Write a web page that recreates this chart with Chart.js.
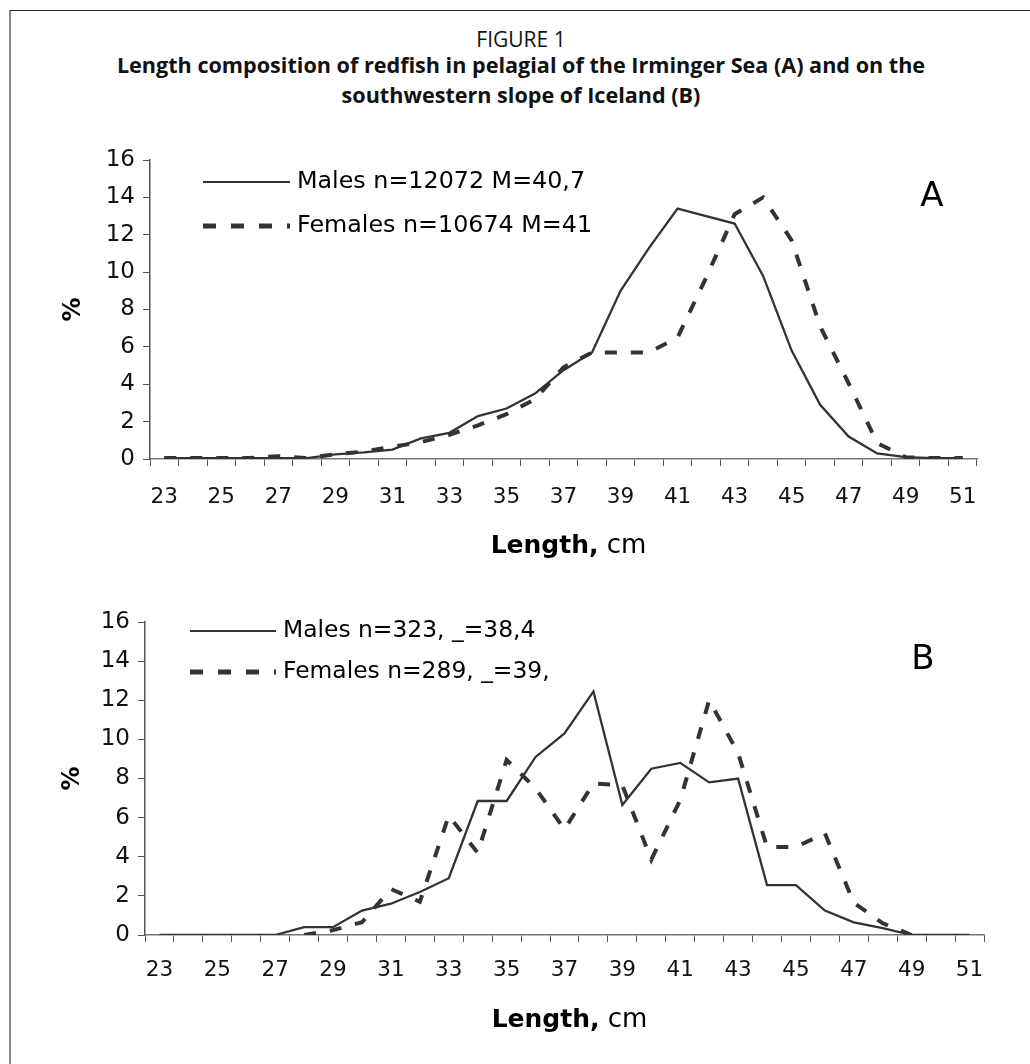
<!DOCTYPE html>
<html>
<head>
<meta charset="utf-8">
<script src="https://cdn.jsdelivr.net/npm/chart.js@4.4.1/dist/chart.umd.min.js"></script>
<style>
  body { margin: 0; background: #fff; }
  #page { position: relative; width: 1030px; height: 1064px; overflow: hidden; }
  #frame { position: absolute; left: 9px; top: 10px; right: -5px; bottom: -5px;
           border-top: 1px solid #222; border-left: 2px solid #888; }
  .hd { position: absolute; left: 0; width: 1042px; text-align: center; color: #111;
        font-family: "Open Sans", sans-serif; }
  #fig { top: 25px; font-size: 21px; line-height: 28px; }
  #ttl { top: 50px; font-size: 21.6px; font-weight: bold; line-height: 30px; }
  canvas { position: absolute; left: 0; }
  #chartA { top: 100px; }
  #chartB { top: 570px; }
</style>
</head>
<body>
<div id="page">
  <div id="frame"></div>
  <div class="hd" id="fig">FIGURE 1</div>
  <div class="hd" id="ttl">Length composition of redfish in pelagial of the Irminger Sea (A) and on the<br>southwestern slope of Iceland (B)</div>
  <canvas id="chartA" width="1030" height="470"></canvas>
  <canvas id="chartB" width="1030" height="494"></canvas>
</div>
<script>
// length classes, cm
const lengths = [23, 24, 25, 26, 27, 28, 29, 30, 31, 32, 33, 34, 35, 36, 37,
                 38, 39, 40, 41, 42, 43, 44, 45, 46, 47, 48, 49, 50, 51];

// A: pelagial of the Irminger Sea, % of catch
const malesA = [0.05, 0.05, 0.05, 0.05, 0.05, 0.05, 0.25, 0.35, 0.5, 1.1, 1.4, 2.3, 2.7, 3.5, 4.75,
                5.7, 9.0, 11.3, 13.4, 13.0, 12.6, 9.8, 5.8, 2.9, 1.2, 0.3, 0.1, 0.05, 0.05];
const femalesA = [0.05, 0.05, 0.05, 0.05, 0.15, 0.05, 0.25, 0.4, 0.65, 0.9, 1.3, 1.8, 2.4, 3.2, 4.9,
                  5.7, 5.7, 5.7, 6.5, 9.7, 13.1, 14.0, 11.7, 7.1, 4.05, 0.85, 0.1, 0.05, 0.05];

// B: southwestern slope of Iceland
const malesB = [0, 0, 0, 0, 0, 0.4, 0.4, 1.25, 1.6, 2.2, 2.9, 6.85, 6.85, 9.1, 10.3,
                12.45, 6.65, 8.5, 8.8, 7.8, 8.0, 2.55, 2.55, 1.25, 0.65, 0.35, 0, 0, 0];
const femalesB = [null, null, null, null, null, 0, 0.25, 0.65, 2.35, 1.7, 6.1, 4.2, 8.95, 7.5, 5.4,
                  7.75, 7.65, 3.85, 6.9, 12.0, 9.3, 4.5, 4.5, 5.2, 1.65, 0.6, 0, null, null];

const yTicks = [0, 2, 4, 6, 8, 10, 12, 14, 16];

const legendA = ['Males n=12072 M=40,7', 'Females n=10674 M=41'];
const legendB = ['Males n=323, _=38,4', 'Females n=289, _=39,'];

const LINE = '#333';
const FONT = 'DejaVu Sans';
const FEMALE_DASH = [12, 14];

// legend, panel letter and the mixed-weight x title are drawn on top of the chart
const overlay = {
  id: 'overlay',
  afterDraw(chart, args, o) {
    const { ctx, chartArea: a } = chart;
    ctx.save();
    ctx.fillStyle = '#000';
    ctx.textBaseline = 'middle';

    // legend rows
    o.legend.forEach((txt, i) => {
      const y = a.top + o.legendY[i];
      ctx.beginPath();
      ctx.strokeStyle = LINE;
      if (i === 0) {
        ctx.lineWidth = 2;
        ctx.setLineDash([]);
      } else {
        ctx.lineWidth = 5;
        ctx.setLineDash([13, 15]);
      }
      ctx.moveTo(a.left + o.sampleX[0], y);
      ctx.lineTo(a.left + o.sampleX[1], y);
      ctx.stroke();
      ctx.setLineDash([]);
      ctx.font = o.legendSize + 'px "' + FONT + '"';
      ctx.textAlign = 'left';
      ctx.fillText(txt, a.left + o.sampleX[1] + 7, y);
    });

    // panel letter
    ctx.font = '34px "' + FONT + '"';
    ctx.textAlign = 'center';
    ctx.fillText(o.letter, a.right + o.letterPos[0], a.top + o.letterPos[1]);

    // x axis title: "Length," bold, "cm" regular
    const bold = 'bold 25px "' + FONT + '"';
    const reg = '26px "' + FONT + '"';
    ctx.font = bold;
    const w1 = ctx.measureText('Length,').width;
    ctx.font = reg;
    const w2 = ctx.measureText(' cm').width;
    const x0 = (a.left + a.right) / 2 + 5 - (w1 + w2) / 2;
    const ty = a.bottom + o.titleY;
    ctx.textAlign = 'left';
    ctx.font = bold;
    ctx.fillText('Length,', x0, ty);
    ctx.font = reg;
    ctx.fillText(' cm', x0 + w1, ty);
    ctx.restore();
  }
};

function makeChart(id, males, females, pad, xHeight, extra) {
  return new Chart(document.getElementById(id), {
    type: 'line',
    data: {
      labels: lengths,
      datasets: [
        {
          label: 'Females', data: females, order: 0,
          borderColor: LINE, borderWidth: 4, borderDash: FEMALE_DASH,
          borderCapStyle: 'butt', pointRadius: 0, tension: 0, fill: false
        },
        {
          label: 'Males', data: males, order: 1,
          borderColor: LINE, borderWidth: 2.3,
          pointRadius: 0, tension: 0, fill: false
        }
      ]
    },
    options: {
      responsive: false,
      animation: false,
      layout: { padding: pad },
      plugins: {
        legend: { display: false },
        tooltip: { enabled: false },
        overlay: extra
      },
      scales: {
        x: {
          type: 'category',
          offset: true,
          grid: { offset: true, drawOnChartArea: false, tickLength: 7, color: '#555', tickWidth: 1 },
          border: { color: '#777', width: 1.5 },
          ticks: {
            autoSkip: false, maxRotation: 0, padding: extra.xLabelPad,
            color: '#111', font: { family: FONT, size: 21.5 },
            callback: (v, i) => (i % 2 === 0 ? String(lengths[i]) : '')
          },
          afterFit: s => { s.height = xHeight; }
        },
        y: {
          min: 0, max: 16,
          afterBuildTicks: s => { s.ticks = yTicks.map(v => ({ value: v })); },
          grid: { drawOnChartArea: false, tickLength: 7, color: '#555' },
          border: { color: '#555', width: 1.5 },
          ticks: { padding: 8, color: '#111', font: { family: FONT, size: 23 } },
          title: {
            display: true, text: '%', color: '#000',
            font: { family: FONT, size: 24, weight: 'bold' },
            padding: { top: extra.yTitlePad, bottom: 0 }
          },
          afterFit: s => { s.width = 95; }
        }
      }
    },
    plugins: [overlay]
  });
}

makeChart('chartA', malesA, femalesA,
  { left: 55, right: 53, top: 60, bottom: 0 }, 111,
  { legend: legendA, legendY: [22, 66], sampleX: [53, 140], legendSize: 23.8,
    letter: 'A', letterPos: [-45, 37], titleY: 87, yTitlePad: 4, xLabelPad: 19 });

makeChart('chartB', malesB, femalesB,
  { left: 50, right: 46, top: 52, bottom: 0 }, 129,
  { legend: legendB, legendY: [9, 50], sampleX: [45, 131], legendSize: 23.4,
    letter: 'B', letterPos: [-61, 38], titleY: 85, yTitlePad: 8, xLabelPad: 16 });
</script>
</body>
</html>
